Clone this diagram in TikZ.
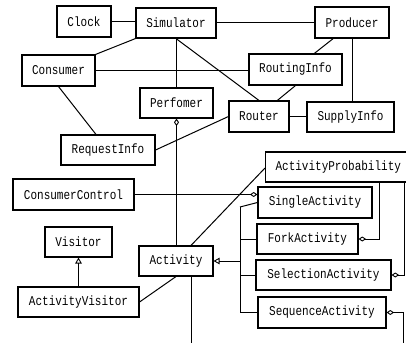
\documentclass[tikz,border=0pt]{standalone}
\usepackage{fontspec}
\setmonofont{Liberation Mono}
\usetikzlibrary{arrows.meta,calc}
\newcommand{\clsname}[1]{\scalebox{1}[1.22]{#1}}
\tikzset{
  cls/.style={draw, line width=1.1pt, inner sep=0pt, font=\ttfamily\fontsize{11}{13}\selectfont},
  conn/.style={line width=1pt},
  agg/.tip={Diamond[open,length=7.5pt,width=5pt,line width=0.9pt]},
  gen/.tip={Triangle[open,length=6pt,width=6.5pt,line width=0.9pt]},
}
\begin{document}
\begin{tikzpicture}[x=1pt,y=-1pt]
\useasboundingbox (0,0) rectangle (406,342);
% classes
\node[cls, minimum width=54pt, minimum height=31pt] (clock) at (84,21.5) {\clsname{Clock}};
\node[cls, minimum width=80pt, minimum height=30pt] (sim) at (176,23) {\clsname{Simulator}};
\node[cls, minimum width=74pt, minimum height=31pt] (prod) at (352,22.5) {\clsname{Producer}};
\node[cls, minimum width=73pt, minimum height=31pt] (cons) at (58.5,70.5) {\clsname{Consumer}};
\node[cls, minimum width=93pt, minimum height=31pt] (rout) at (295.5,69.5) {\clsname{RoutingInfo}};
\node[cls, minimum width=73pt, minimum height=30pt] (perf) at (176.5,103) {\clsname{Perfomer}};
\node[cls, minimum width=60pt, minimum height=31pt] (router) at (259,116.5) {\clsname{Router}};
\node[cls, minimum width=87pt, minimum height=30pt] (supply) at (350.5,117) {\clsname{SupplyInfo}};
\node[cls, minimum width=94pt, minimum height=30pt] (req) at (108,150) {\clsname{RequestInfo}};
\node[cls, anchor=west, inner xsep=10pt, minimum height=30pt] (ap) at (265,167) {\clsname{ActivityProbability}};
\node[cls, minimum width=121pt, minimum height=31pt] (cc) at (73.5,194.5) {\clsname{ConsumerControl}};
\node[cls, minimum width=114pt, minimum height=31pt] (single) at (315,202.5) {\clsname{SingleActivity}};
\node[cls, minimum width=101pt, minimum height=30pt] (fork) at (307.5,239) {\clsname{ForkActivity}};
\node[cls, minimum width=135pt, minimum height=30pt] (sel) at (323.5,275) {\clsname{SelectionActivity}};
\node[cls, minimum width=128pt, minimum height=31pt] (seq) at (322,312.5) {\clsname{SequenceActivity}};
\node[cls, minimum width=67pt, minimum height=30pt] (visitor) at (78.5,242) {\clsname{Visitor}};
\node[cls, minimum width=121pt, minimum height=30pt] (av) at (78.5,302) {\clsname{ActivityVisitor}};
\node[cls, minimum width=74pt, minimum height=30pt] (act) at (176,261) {\clsname{Activity}};
% helper coordinates
\coordinate (tr1) at (240,207);
\coordinate (tr2) at (240,312.5);
\coordinate (actdown) at (191,345);
\coordinate (seqdown) at (403,345);
% associations
\draw[conn] (clock.east) -- (clock.east -| sim.west);
\draw[conn] (sim.east) -- (sim.east -| prod.west);
\draw[conn] (sim.south west) -- (cons.north east);
\draw[conn] (perf.north |- sim.south) -- (perf.north);
\draw[conn] (sim.south) -- (router.north);
\draw[conn] (cons.east) -- (cons.east -| rout.west);
\draw[conn] ($(prod.south west)!0.25!(prod.south east)$) -- ($(rout.north)!0.4!(rout.north east)$);
\draw[conn] (prod.south) -- (prod.south |- supply.north);
\draw[conn] (rout.south) -- ($(router.north)!0.6!(router.north east)$);
\draw[conn] (router.east) -- (router.east -| supply.west);
\draw[conn] (router.west) -- (req.east);
\draw[conn] (cons.south) -- ($(req.north)+(-12,0)$);
\draw[conn] ($(cons.south west)+(16,0)$) -- ($(cons.south west)+(16,0)$ |- cc.north);
\draw[conn] ($(act.north)+(15,0)$) -- ($(ap.west)+(0,1)$);
\draw[conn] ($(act.south)+(15,0)$) -- (actdown);
\draw[conn] (av.east) -- (act.south);
% aggregations
\draw[conn, {agg}-] (perf.south) -- (perf.south |- act.north);
\draw[conn, -{agg}] (cc.east) -- (cc.east -| single.west);
\draw[conn, {agg}-] (fork.east) -| ($(ap.south west)+(114,0)$);
\draw[conn, {agg}-] (sel.east) -| ($(ap.south west)+(139,0)$);
\draw[conn, {agg}-] (seq.east) -| (seqdown);
% generalizations
\draw[conn] (tr1) -- (tr2);
\draw[conn] (tr1) -- (single.west);
\draw[conn] (fork.west -| tr1) -- (fork.west);
\draw[conn] (sel.west -| tr1) -- (sel.west);
\draw[conn] (seq.west -| tr1) -- (seq.west);
\draw[conn, -{gen}] (act.east -| tr1) -- (act.east);
\draw[conn, -{gen}] (av.north) -- (visitor.south);
\end{tikzpicture}
\end{document}
